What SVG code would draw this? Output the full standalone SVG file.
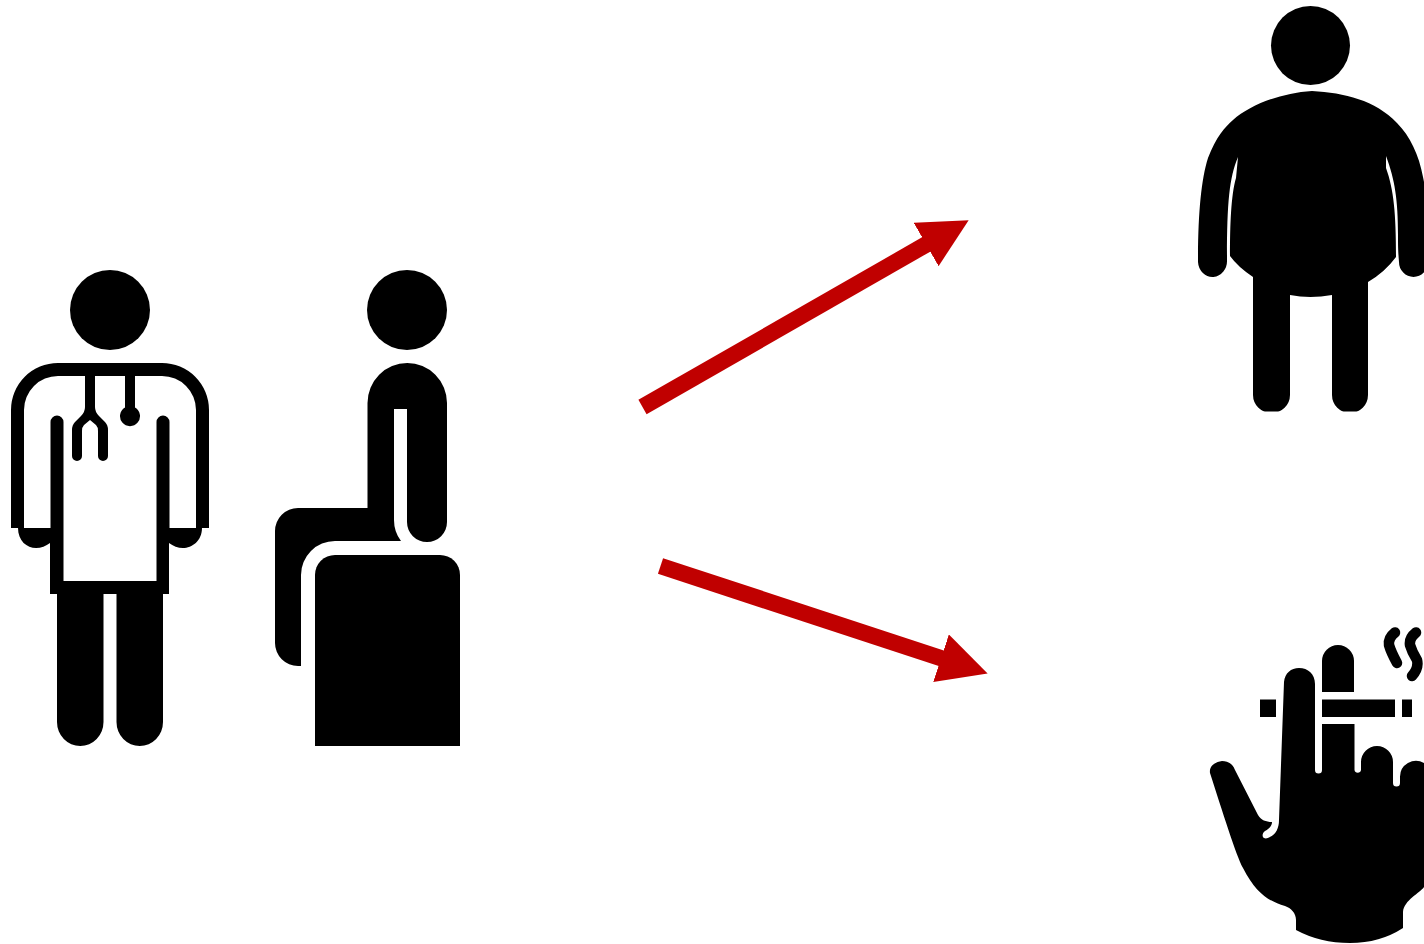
<svg xmlns="http://www.w3.org/2000/svg" width="1424" height="944" viewBox="0 0 1424 944">
<style>
.icon{fill:#000;fill-rule:evenodd;stroke:none}
.smoke{fill:none;stroke:#000;stroke-width:10.500;stroke-linecap:round;stroke-linejoin:round}
.arrow{fill:none;stroke:#c00000;stroke-width:16.500;marker-end:url(#head)}
</style>
<defs>
<marker id="head" markerUnits="userSpaceOnUse" markerWidth="49" markerHeight="50" viewBox="0 0 49 50" refX="1" refY="25" orient="auto"><path d="M0 0L49 25L0 50Z" fill="#c00000"/></marker>
<clipPath id="legclip"><rect x="1190" y="0" width="234" height="411.500"/></clipPath>
</defs>
<rect width="1424" height="944" fill="#fff"/>
<g id="doctor">
<circle class="icon" cx="110" cy="310" r="40"/>
<path class="icon" d="M11 528V410A47 47 0 0 1 58 363H162A47 47 0 0 1 209 410V528H202C202 541 192 548 183 548C178 548 173 546 169 543V594H163V722A23.250 24 0 0 1 116.500 722V594H103.500V722A23.250 24 0 0 1 57 722V594H50V543C46 546 41 548 36 548C27 548 18 541 18 528ZM24 528H50.500V422A6.500 6.500 0 0 1 63.500 422V581H156.500V422A6.500 6.500 0 0 1 169.500 422V528H196V410A34 34 0 0 0 162 376H135V407.500A10 10 0 1 1 125 407.500V376H95V407Q95 412 99 416L105 422Q108 425 108 430V456A5 5 0 0 1 98 456V431Q98 427 96 425L90 420L84 425Q82 427 82 431V456A5 5 0 0 1 72 456V430Q72 425 75 422L81 416Q85 412 85 407V376H58A34 34 0 0 0 24 410Z"/>
</g>
<g id="patient">
<circle class="icon" cx="407" cy="310" r="40"/>
<path class="icon" d="M367.500 508V403A39.750 40 0 0 1 447 403V522A20 20 0 0 1 407 522V409H394V520Q394 532 401 541H335A34 34 0 0 0 301 575V666H298A23 23 0 0 1 275 643V531A23 23 0 0 1 298 508Z"/>
<path class="icon" d="M315 746V575A20 20 0 0 1 335 555H440A20 20 0 0 1 460 575V746Z"/>
</g>
<g id="obese">
<circle class="icon" cx="1310.500" cy="45.500" r="39.500"/>
<path class="icon" clip-path="url(#legclip)" d="M1312 91C1345 93 1375 100 1397 123C1410 136 1419 155 1423 177C1427 195 1428 225 1428 262A14.500 15 0 0 1 1399 262C1398 250 1398 245 1398 235C1398 200 1395 180 1386 156L1386 168C1394 190 1396 215 1396 257Q1385 272 1368 282V395A18 18 0 0 1 1332 395V295Q1310 299 1290 295V395A18.500 18 0 0 1 1253 395V277Q1238 267 1230 256C1230 225 1231 195 1236 178L1238 157C1229 178 1227 205 1227 260A14.500 16 0 0 1 1198 262C1198 215 1201 180 1208 158C1216 137 1225 127 1233 120C1250 105 1280 93 1312 91Z"/>
</g>
<g id="smoker">
<path class="icon" d="M1210 773C1209 766 1215 762 1222 761C1228 761 1233 764 1235 770L1258 815C1261 820 1266 822 1272 822C1272 826 1269 829 1265 831C1262 833 1262 837 1264 838C1266 839 1268 838 1270 837C1276 834 1279 828 1279 820L1284 682C1285 673 1291 668 1299 668C1308 668 1315 674 1315 684V770A3.500 3.500 0 0 0 1322 770V724H1354.500V770A3.300 3.300 0 0 0 1361 770V762A16 16 0 0 1 1393 762V783A3.500 3.500 0 0 0 1400 783V777A16 16 0 0 1 1424 763L1440 770V880L1424 887C1420 893 1404 900 1403 912V928Q1380 943 1350 943Q1320 943 1296 930V920C1296 913 1291 908 1285 906C1268 901 1256 893 1243 868C1236 855 1222 810 1210 773Z"/>
<path class="icon" d="M1322 692V661A16 16 0 0 1 1354 661V692Z"/>
<path class="icon" d="M1322 699.500H1395V717H1322ZM1260 699.500H1276V717H1260ZM1402 699.500H1412V717H1402Z"/>
<path class="smoke" d="M1395 632.500Q1388 638 1389 645Q1391 652 1397 663"/>
<path class="smoke" d="M1416 632.500Q1409 638 1410 645Q1412 652 1417 660Q1419 668 1412 676"/>
</g>
<g id="connectors">
<line class="arrow" x1="642.500" y1="407" x2="927" y2="244"/>
<line class="arrow" x1="660.500" y1="566" x2="942" y2="658.500"/>
</g>
</svg>
